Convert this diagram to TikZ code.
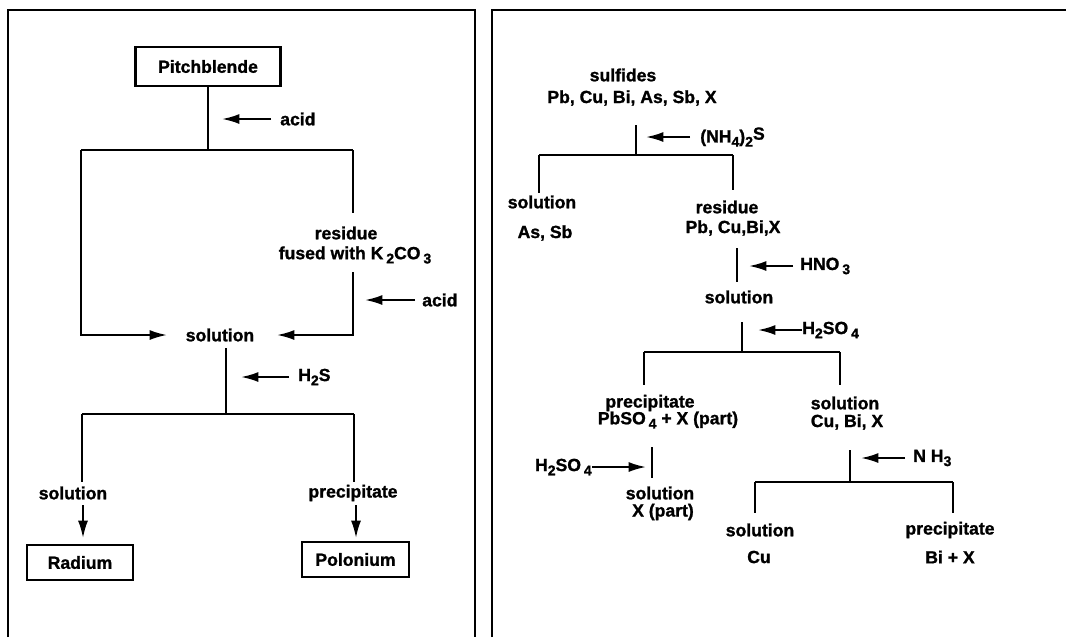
\documentclass[tikz,border=0pt]{standalone}
\usepackage{fontspec}
\setmainfont{Liberation Sans}[BoldFeatures={FakeBold=1.2}]
\usetikzlibrary{arrows.meta}
\newcommand{\sbs}[1]{\raisebox{-0.45ex}{\fontsize{10.5}{10.5}\selectfont #1}}
\begin{document}
\begin{tikzpicture}[x=0.75pt,y=-0.75pt,
  ln/.style={line width=1.9pt},
  frm/.style={line width=1.9pt},
  arr/.style={line width=1.5pt,-{Latex[length=13pt,width=7.5pt]}},
  lbl/.style={font=\bfseries\fontsize{13.2}{14}\selectfont, inner sep=0pt},
  box/.style={draw, line width=1.7pt, font=\bfseries\fontsize{13.2}{14}\selectfont, inner sep=0pt, minimum height=26.25pt}
]
\useasboundingbox (0,0) rectangle (1066,637);
\fill[white] (0,0) rectangle (1066,637);
% frames
\draw[frm] (8,637) -- (8,10) -- (475,10) -- (475,637);
\draw[frm] (492,637) -- (492,10) -- (1066,10);

% ---------------- left panel ----------------
\node[box, minimum width=108.75pt, minimum height=29.25pt] (pb) at (208,66.5) {Pitchblende};
\node[lbl, anchor=west] (acid1) at (280,119) {acid};
\node[lbl] (sol1) at (220,335) {solution};
\node[lbl] (res) at (346,233) {residue};
\node[lbl] (fus) at (355,255) {fused with K\,\sbs{2}CO\,\sbs{3}};
\node[lbl, anchor=west] (acid2) at (422,300) {acid};
\node[lbl, anchor=west] (h2s) at (298,377) {H\sbs{2}S};
\node[lbl] (solL) at (73,493) {solution};
\node[lbl] (prec) at (353,493) {precipitate};
\node[box, minimum width=79.5pt] (ra) at (80,562.5) {Radium};
\node[box, minimum width=80.25pt] (po) at (355.5,559.5) {Polonium};

\coordinate (j1) at (208,150);
\coordinate (L1) at (81,150);
\coordinate (R1) at (353,150);
\coordinate (a1) at (222,119);
\coordinate (rtop) at (353,213);
\coordinate (rbot) at (353,272);
\coordinate (inL) at (167,335);
\coordinate (inR) at (277,335);
\coordinate (a2) at (365,300);
\coordinate (s1t) at (226,348);
\coordinate (s1b) at (226,414);
\coordinate (a3) at (241,377);
\coordinate (L2) at (82,414);
\coordinate (R2) at (354,414);
\coordinate (L2b) at (82,482);
\coordinate (R2b) at (354,482);
\coordinate (raT) at (83,505);
\coordinate (raH) at (83,538);
\coordinate (poT) at (356,505);
\coordinate (poH) at (356,538);

\draw[ln] (pb.south) -- (j1);
\draw[arr] (acid1.west) ++(-9,0) -- (a1);
\draw[ln] (L1) -- (R1);
\draw[ln] (R1) -- (rtop);
\draw[arr] (L1) |- (inL);
\draw[arr] (rbot) |- (inR);
\draw[arr] (acid2.west) ++(-7,0) -- (a2);
\draw[ln] (s1t) -- (s1b);
\draw[arr] (h2s.west) ++(-9,0) -- (a3);
\draw[ln] (L2) -- (R2);
\draw[ln] (L2) -- (L2b);
\draw[ln] (R2) -- (R2b);
\draw[arr] (raT) -- (raH);
\draw[arr] (poT) -- (poH);

% ---------------- right panel ----------------
\node[lbl] (sulf) at (623,75) {sulfides};
\node[lbl] (sulfel) at (632,98) {Pb, Cu, Bi, As, Sb, X};
\node[lbl, anchor=west] (nh4) at (700,137) {(NH\sbs{4})\sbs{2}\raisebox{0.3ex}{S}};
\node[lbl] (solA) at (542,202) {solution};
\node[lbl] (asb) at (545,233) {As, Sb};
\node[lbl] (resB) at (727,207) {residue};
\node[lbl] (pbcu) at (733,228) {Pb, Cu,Bi,X};
\node[lbl, anchor=west] (hno3) at (800,266) {HNO\,\sbs{3}};
\node[lbl] (sol2) at (739,297) {solution};
\node[lbl, anchor=west] (h2so4a) at (802,330) {H\sbs{2}SO\,\sbs{4}};
\node[lbl] (precB) at (650,403) {precipitate};
\node[lbl] (pbso4) at (668,420) {PbSO\,\sbs{4} + X (part)};
\node[lbl, anchor=east] (h2so4b) at (592,467) {H\sbs{2}SO\,\sbs{4}};
\node[lbl] (solX) at (660,493) {solution};
\node[lbl] (xpart) at (663,512) {X (part)};
\node[lbl] (solC) at (845,403) {solution};
\node[lbl] (cubix) at (847,422) {Cu, Bi, X};
\node[lbl, anchor=west] (nh3) at (913,458) {N H\sbs{3}};
\node[lbl] (solCu) at (760,530) {solution};
\node[lbl] (cu) at (759,557) {Cu};
\node[lbl] (precBi) at (950,530) {precipitate};
\node[lbl] (bix) at (950,557) {Bi + X};

\coordinate (v1t) at (636,125);
\coordinate (v1b) at (636,155);
\coordinate (b1) at (646,137);
\coordinate (L3) at (539,155);
\coordinate (R3) at (733,155);
\coordinate (L3b) at (539,193);
\coordinate (R3b) at (733,190);
\coordinate (v2t) at (737,248);
\coordinate (v2b) at (737,282);
\coordinate (b2) at (749,266);
\coordinate (v3t) at (742,322);
\coordinate (v3b) at (742,352);
\coordinate (b3) at (758,330);
\coordinate (L4) at (644,352);
\coordinate (R4) at (840,352);
\coordinate (L4b) at (644,385);
\coordinate (R4b) at (840,385);
\coordinate (v4t) at (652,447);
\coordinate (v4b) at (652,478);
\coordinate (b4) at (646,467);
\coordinate (v5t) at (850,450);
\coordinate (v5b) at (850,482);
\coordinate (b5) at (861,458);
\coordinate (L5) at (755,482);
\coordinate (R5) at (953,482);
\coordinate (L5b) at (755,513);
\coordinate (R5b) at (953,513);

\draw[ln] (v1t) -- (v1b);
\draw[arr] (nh4.west) ++(-10,0) -- (b1);
\draw[ln] (L3) -- (R3);
\draw[ln] (L3) -- (L3b);
\draw[ln] (R3) -- (R3b);
\draw[ln] (v2t) -- (v2b);
\draw[arr] (hno3.west) ++(-7,0) -- (b2);
\draw[ln] (v3t) -- (v3b);
\draw[arr] (h2so4a.west) -- (b3);
\draw[ln] (L4) -- (R4);
\draw[ln] (L4) -- (L4b);
\draw[ln] (R4) -- (R4b);
\draw[ln] (v4t) -- (v4b);
\draw[arr] (h2so4b.east) -- (b4);
\draw[ln] (v5t) -- (v5b);
\draw[arr] (nh3.west) ++(-8,0) -- (b5);
\draw[ln] (L5) -- (R5);
\draw[ln] (L5) -- (L5b);
\draw[ln] (R5) -- (R5b);
\end{tikzpicture}
\end{document}
